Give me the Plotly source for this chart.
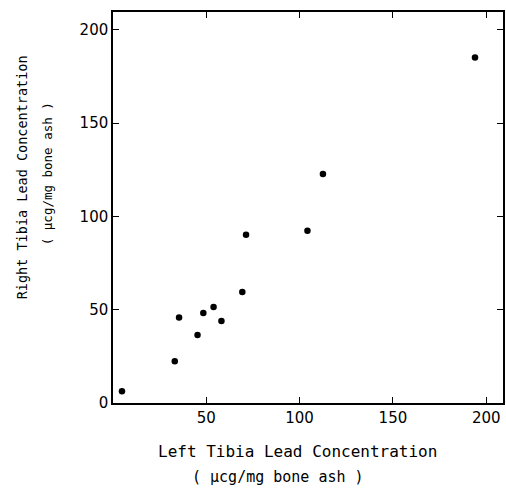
import plotly.graph_objects as go

left_tibia = [4.8, 33.1, 35.4, 45.3, 48.4, 53.9, 58.1, 69.3, 71.3, 104.2, 112.5, 194.0]
right_tibia = [6.3, 22.4, 45.9, 36.5, 48.3, 51.5, 44.0, 59.5, 90.2, 92.4, 122.7, 185.2]

x_ticks = [50, 100, 150, 200]
y_ticks = [0, 50, 100, 150, 200]

x_title = ["Left Tibia Lead Concentration", "( \u03bccg/mg bone ash )"]
y_title = ["Right Tibia Lead Concentration", "( \u03bccg/mg bone ash )"]

FONT = "DejaVu Sans"
TFONT = "DejaVu Sans Mono"

fig = go.Figure()
fig.add_trace(go.Scatter(
    x=left_tibia, y=right_tibia, mode="markers",
    marker=dict(color="black", size=6.5),
    showlegend=False, hoverinfo="x+y",
))

axis_common = dict(
    showgrid=False, zeroline=False, showline=True, linecolor="black", linewidth=1.5,
    mirror="ticks", ticks="inside", ticklen=6, tickwidth=1.3, tickcolor="black",
    tickfont=dict(family=FONT, size=15, color="black"),
)

fig.update_xaxes(range=[0, 209], tickvals=x_ticks, ticktext=[str(v) for v in x_ticks], **axis_common)
fig.update_yaxes(range=[0, 209.6], tickvals=y_ticks, ticktext=[str(v) for v in y_ticks], **axis_common)

annotations = [
    dict(text=x_title[0], x=0.472, y=-0.124, xref="paper", yref="paper",
         showarrow=False, xanchor="center", yanchor="middle",
         font=dict(family=TFONT, size=16, color="black")),
    dict(text=x_title[1], x=0.4235, y=-0.188, xref="paper", yref="paper",
         showarrow=False, xanchor="center", yanchor="middle",
         font=dict(family=TFONT, size=15, color="black")),
    dict(text=y_title[0], x=-0.2347, y=0.5785, xref="paper", yref="paper",
         showarrow=False, xanchor="center", yanchor="middle", textangle=-90,
         font=dict(family=TFONT, size=13.5, color="black")),
    dict(text=y_title[1], x=-0.1658, y=0.586, xref="paper", yref="paper",
         showarrow=False, xanchor="center", yanchor="middle", textangle=-90,
         font=dict(family=TFONT, size=12.5, color="black")),
]

fig.update_layout(
    width=506, height=489,
    margin=dict(l=113, r=1, t=12, b=85.5),
    paper_bgcolor="white", plot_bgcolor="white",
    annotations=annotations,
)

fig.write_html(
    "out.html",
    config={"displayModeBar": False},
    post_script="document.body.style.margin='0';document.body.style.overflow='hidden';",
)
